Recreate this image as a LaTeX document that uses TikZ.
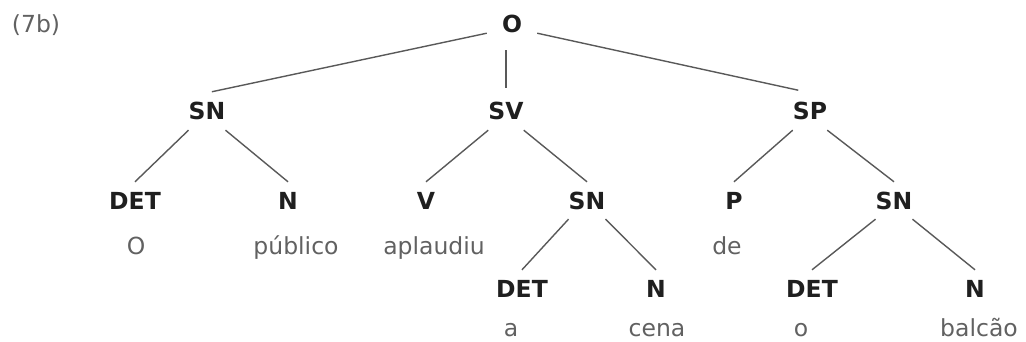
\documentclass[tikz,border=0pt]{standalone}
\usepackage{fontspec}
\setmainfont{DejaVu Sans}
\begin{document}
\begin{tikzpicture}[x=1pt,y=-1pt,
  cat/.style={font=\fontsize{23.5}{28}\selectfont\bfseries, text=black!88,
    inner xsep=0pt, inner ysep=10pt, text height=17pt, text depth=0pt, anchor=base},
  word/.style={font=\fontsize{23.5}{28}\selectfont, text=black!62,
    inner sep=0pt, anchor=base},
  branch/.style={draw=black!65, line width=1.4pt}]
\useasboundingbox (0,0) rectangle (1026,342);

% example number
\node[word] (num) at (36,33) {(7b)};

% root
\node[cat, inner xsep=15pt, inner ysep=0pt] (o) at (512,33) {O};

% phrase level
\node[cat] (sn1) at (207,120) {SN};
\node[cat] (sv)  at (506,120) {SV};
\node[cat] (sp)  at (810,120) {SP};

% third level
\node[cat] (det1) at (135,209) {DET};
\node[cat] (n1)   at (288,209) {N};
\node[cat] (v)    at (426,209) {V};
\node[cat] (sn2)  at (587,209) {SN};
\node[cat] (p)    at (734,209) {P};
\node[cat] (sn3)  at (894,209) {SN};

% fourth level
\node[cat] (det2) at (522,297) {DET};
\node[cat] (n2)   at (656,297) {N};
\node[cat] (det3) at (812,297) {DET};
\node[cat] (n3)   at (975,297) {N};

% words
\node[word] (w1) at (136,254) {O};
\node[word] (w2) at (296,254) {público};
\node[word] (w3) at (434,254) {aplaudiu};
\node[word] (w4) at (727,254) {de};
\node[word] (w5) at (511,336) {a};
\node[word] (w6) at (657,336) {cena};
\node[word] (w7) at (801,336) {o};
\node[word] (w8) at (979,336) {balcão};

% branches
\draw[branch, shorten >=5pt] (o.south west) -- (sn1.north);
\draw[branch, shorten <=5pt, shorten >=17pt] (sv.north) -- (sv.north |- o.south);
\draw[branch, shorten >=12pt] (o.south east) -- (sp.north);

\draw[branch] (sn1.south west) -- (det1.north);
\draw[branch] (sn1.south east) -- (n1.north);
\draw[branch] (sv.south west) -- (v.north);
\draw[branch] (sv.south east) -- (sn2.north);
\draw[branch] (sp.south west) -- (p.north);
\draw[branch] (sp.south east) -- (sn3.north);

\draw[branch] (sn2.south west) -- (det2.north);
\draw[branch] (sn2.south east) -- (n2.north);
\draw[branch] (sn3.south west) -- (det3.north);
\draw[branch] (sn3.south east) -- (n3.north);
\end{tikzpicture}
\end{document}
